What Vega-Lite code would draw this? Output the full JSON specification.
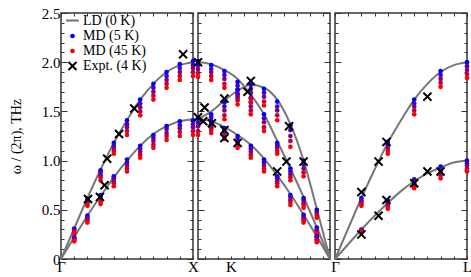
{
"$schema": "https://vega.github.io/schema/vega-lite/v6.json",
"padding": {"left": 8, "top": 5, "right": 0, "bottom": 0},
"bounds": "flush",
"spacing": 5,
"config": {"view": {"stroke": "#333", "strokeWidth": 1.5}, "font": "Liberation Serif"},
"datasets": {
"ld": [
{"p":1,"b":"a","q":0,"w":0},{"p":1,"b":"a","q":0.1,"w":0.31},{"p":1,"b":"a","q":0.2,"w":0.62},{"p":1,"b":"a","q":0.3,"w":0.91},{"p":1,"b":"a","q":0.4,"w":1.18},{"p":1,"b":"a","q":0.5,"w":1.41},{"p":1,"b":"a","q":0.6,"w":1.62},{"p":1,"b":"a","q":0.7,"w":1.78},{"p":1,"b":"a","q":0.8,"w":1.90},{"p":1,"b":"a","q":0.9,"w":1.97},{"p":1,"b":"a","q":1,"w":2.0},
{"p":1,"b":"t","q":0,"w":0},{"p":1,"b":"t","q":0.1,"w":0.22},{"p":1,"b":"t","q":0.2,"w":0.44},{"p":1,"b":"t","q":0.3,"w":0.64},{"p":1,"b":"t","q":0.4,"w":0.83},{"p":1,"b":"t","q":0.5,"w":1.0},{"p":1,"b":"t","q":0.6,"w":1.15},{"p":1,"b":"t","q":0.7,"w":1.27},{"p":1,"b":"t","q":0.8,"w":1.35},{"p":1,"b":"t","q":0.9,"w":1.40},{"p":1,"b":"t","q":1,"w":1.42},
{"p":2,"b":"A","q":0,"w":2.0},{"p":2,"b":"A","q":0.1,"w":1.98},{"p":2,"b":"A","q":0.2,"w":1.92},{"p":2,"b":"A","q":0.3,"w":1.83},{"p":2,"b":"A","q":0.4,"w":1.67},{"p":2,"b":"A","q":0.5,"w":1.47},{"p":2,"b":"A","q":0.6,"w":1.20},{"p":2,"b":"A","q":0.7,"w":0.92},{"p":2,"b":"A","q":0.8,"w":0.63},{"p":2,"b":"A","q":0.9,"w":0.32},{"p":2,"b":"A","q":1,"w":0},
{"p":2,"b":"B","q":0,"w":1.42},{"p":2,"b":"B","q":0.1,"w":1.50},{"p":2,"b":"B","q":0.2,"w":1.61},{"p":2,"b":"B","q":0.3,"w":1.71},{"p":2,"b":"B","q":0.4,"w":1.77},{"p":2,"b":"B","q":0.5,"w":1.74},{"p":2,"b":"B","q":0.6,"w":1.62},{"p":2,"b":"B","q":0.7,"w":1.37},{"p":2,"b":"B","q":0.8,"w":1.0},{"p":2,"b":"B","q":0.9,"w":0.51},{"p":2,"b":"B","q":1,"w":0},
{"p":2,"b":"C","q":0,"w":1.42},{"p":2,"b":"C","q":0.1,"w":1.40},{"p":2,"b":"C","q":0.2,"w":1.34},{"p":2,"b":"C","q":0.3,"w":1.26},{"p":2,"b":"C","q":0.4,"w":1.16},{"p":2,"b":"C","q":0.5,"w":1.02},{"p":2,"b":"C","q":0.6,"w":0.85},{"p":2,"b":"C","q":0.7,"w":0.66},{"p":2,"b":"C","q":0.8,"w":0.45},{"p":2,"b":"C","q":0.9,"w":0.23},{"p":2,"b":"C","q":1,"w":0},
{"p":3,"b":"a","q":0,"w":0},{"p":3,"b":"a","q":0.1,"w":0.31},{"p":3,"b":"a","q":0.2,"w":0.62},{"p":3,"b":"a","q":0.3,"w":0.91},{"p":3,"b":"a","q":0.4,"w":1.18},{"p":3,"b":"a","q":0.5,"w":1.41},{"p":3,"b":"a","q":0.6,"w":1.62},{"p":3,"b":"a","q":0.7,"w":1.78},{"p":3,"b":"a","q":0.8,"w":1.90},{"p":3,"b":"a","q":0.9,"w":1.97},{"p":3,"b":"a","q":1,"w":2.0},
{"p":3,"b":"t","q":0,"w":0},{"p":3,"b":"t","q":0.1,"w":0.15},{"p":3,"b":"t","q":0.2,"w":0.30},{"p":3,"b":"t","q":0.3,"w":0.44},{"p":3,"b":"t","q":0.4,"w":0.57},{"p":3,"b":"t","q":0.5,"w":0.69},{"p":3,"b":"t","q":0.6,"w":0.79},{"p":3,"b":"t","q":0.7,"w":0.87},{"p":3,"b":"t","q":0.8,"w":0.93},{"p":3,"b":"t","q":0.9,"w":0.98},{"p":3,"b":"t","q":1,"w":1.0}
],
"pt": [
{"p":1,"q":0.1,"w":0.31,"s":"M5"},{"p":1,"q":0.1,"w":0.30,"s":"M15"},{"p":1,"q":0.1,"w":0.29,"s":"M25"},{"p":1,"q":0.1,"w":0.27,"s":"M35"},{"p":1,"q":0.1,"w":0.26,"s":"M45"},
{"p":1,"q":0.2,"w":0.61,"s":"M5"},{"p":1,"q":0.2,"w":0.59,"s":"M15"},{"p":1,"q":0.2,"w":0.58,"s":"M25"},{"p":1,"q":0.2,"w":0.56,"s":"M35"},{"p":1,"q":0.2,"w":0.54,"s":"M45"},
{"p":1,"q":0.3,"w":0.90,"s":"M5"},{"p":1,"q":0.3,"w":0.88,"s":"M15"},{"p":1,"q":0.3,"w":0.85,"s":"M25"},{"p":1,"q":0.3,"w":0.83,"s":"M35"},{"p":1,"q":0.3,"w":0.80,"s":"M45"},
{"p":1,"q":0.4,"w":1.18,"s":"M5"},{"p":1,"q":0.4,"w":1.15,"s":"M15"},{"p":1,"q":0.4,"w":1.13,"s":"M25"},{"p":1,"q":0.4,"w":1.10,"s":"M35"},{"p":1,"q":0.4,"w":1.07,"s":"M45"},
{"p":1,"q":0.5,"w":1.41,"s":"M5"},{"p":1,"q":0.5,"w":1.37,"s":"M15"},{"p":1,"q":0.5,"w":1.34,"s":"M25"},{"p":1,"q":0.5,"w":1.30,"s":"M35"},{"p":1,"q":0.5,"w":1.26,"s":"M45"},
{"p":1,"q":0.6,"w":1.62,"s":"M5"},{"p":1,"q":0.6,"w":1.58,"s":"M15"},{"p":1,"q":0.6,"w":1.54,"s":"M25"},{"p":1,"q":0.6,"w":1.50,"s":"M35"},{"p":1,"q":0.6,"w":1.46,"s":"M45"},
{"p":1,"q":0.7,"w":1.78,"s":"M5"},{"p":1,"q":0.7,"w":1.74,"s":"M15"},{"p":1,"q":0.7,"w":1.70,"s":"M25"},{"p":1,"q":0.7,"w":1.66,"s":"M35"},{"p":1,"q":0.7,"w":1.62,"s":"M45"},
{"p":1,"q":0.8,"w":1.90,"s":"M5"},{"p":1,"q":0.8,"w":1.86,"s":"M15"},{"p":1,"q":0.8,"w":1.82,"s":"M25"},{"p":1,"q":0.8,"w":1.78,"s":"M35"},{"p":1,"q":0.8,"w":1.74,"s":"M45"},
{"p":1,"q":0.9,"w":1.98,"s":"M5"},{"p":1,"q":0.9,"w":1.94,"s":"M15"},{"p":1,"q":0.9,"w":1.90,"s":"M25"},{"p":1,"q":0.9,"w":1.86,"s":"M35"},{"p":1,"q":0.9,"w":1.82,"s":"M45"},
{"p":1,"q":1,"w":2.01,"s":"M5"},{"p":1,"q":1,"w":1.97,"s":"M15"},{"p":1,"q":1,"w":1.94,"s":"M25"},{"p":1,"q":1,"w":1.90,"s":"M35"},{"p":1,"q":1,"w":1.86,"s":"M45"},
{"p":1,"q":0.1,"w":0.22,"s":"M5"},{"p":1,"q":0.1,"w":0.21,"s":"M15"},{"p":1,"q":0.1,"w":0.20,"s":"M25"},{"p":1,"q":0.1,"w":0.19,"s":"M35"},{"p":1,"q":0.1,"w":0.18,"s":"M45"},
{"p":1,"q":0.2,"w":0.44,"s":"M5"},{"p":1,"q":0.2,"w":0.42,"s":"M15"},{"p":1,"q":0.2,"w":0.41,"s":"M25"},{"p":1,"q":0.2,"w":0.39,"s":"M35"},{"p":1,"q":0.2,"w":0.37,"s":"M45"},
{"p":1,"q":0.3,"w":0.65,"s":"M5"},{"p":1,"q":0.3,"w":0.63,"s":"M15"},{"p":1,"q":0.3,"w":0.61,"s":"M25"},{"p":1,"q":0.3,"w":0.58,"s":"M35"},{"p":1,"q":0.3,"w":0.56,"s":"M45"},
{"p":1,"q":0.4,"w":0.84,"s":"M5"},{"p":1,"q":0.4,"w":0.82,"s":"M15"},{"p":1,"q":0.4,"w":0.79,"s":"M25"},{"p":1,"q":0.4,"w":0.77,"s":"M35"},{"p":1,"q":0.4,"w":0.74,"s":"M45"},
{"p":1,"q":0.5,"w":1.01,"s":"M5"},{"p":1,"q":0.5,"w":0.98,"s":"M15"},{"p":1,"q":0.5,"w":0.95,"s":"M25"},{"p":1,"q":0.5,"w":0.92,"s":"M35"},{"p":1,"q":0.5,"w":0.89,"s":"M45"},
{"p":1,"q":0.6,"w":1.15,"s":"M5"},{"p":1,"q":0.6,"w":1.12,"s":"M15"},{"p":1,"q":0.6,"w":1.09,"s":"M25"},{"p":1,"q":0.6,"w":1.06,"s":"M35"},{"p":1,"q":0.6,"w":1.03,"s":"M45"},
{"p":1,"q":0.7,"w":1.26,"s":"M5"},{"p":1,"q":0.7,"w":1.23,"s":"M15"},{"p":1,"q":0.7,"w":1.20,"s":"M25"},{"p":1,"q":0.7,"w":1.16,"s":"M35"},{"p":1,"q":0.7,"w":1.13,"s":"M45"},
{"p":1,"q":0.8,"w":1.35,"s":"M5"},{"p":1,"q":0.8,"w":1.32,"s":"M15"},{"p":1,"q":0.8,"w":1.28,"s":"M25"},{"p":1,"q":0.8,"w":1.25,"s":"M35"},{"p":1,"q":0.8,"w":1.21,"s":"M45"},
{"p":1,"q":0.9,"w":1.40,"s":"M5"},{"p":1,"q":0.9,"w":1.36,"s":"M15"},{"p":1,"q":0.9,"w":1.33,"s":"M25"},{"p":1,"q":0.9,"w":1.29,"s":"M35"},{"p":1,"q":0.9,"w":1.25,"s":"M45"},
{"p":1,"q":1,"w":1.41,"s":"M5"},{"p":1,"q":1,"w":1.37,"s":"M15"},{"p":1,"q":1,"w":1.34,"s":"M25"},{"p":1,"q":1,"w":1.30,"s":"M35"},{"p":1,"q":1,"w":1.26,"s":"M45"},
{"p":2,"q":0,"w":2.01,"s":"M5"},{"p":2,"q":0,"w":1.97,"s":"M15"},{"p":2,"q":0,"w":1.93,"s":"M25"},{"p":2,"q":0,"w":1.89,"s":"M35"},{"p":2,"q":0,"w":1.85,"s":"M45"},
{"p":2,"q":0.1,"w":1.97,"s":"M5"},{"p":2,"q":0.1,"w":1.93,"s":"M15"},{"p":2,"q":0.1,"w":1.90,"s":"M25"},{"p":2,"q":0.1,"w":1.86,"s":"M35"},{"p":2,"q":0.1,"w":1.82,"s":"M45"},
{"p":2,"q":0.2,"w":1.91,"s":"M5"},{"p":2,"q":0.2,"w":1.87,"s":"M15"},{"p":2,"q":0.2,"w":1.83,"s":"M25"},{"p":2,"q":0.2,"w":1.78,"s":"M35"},{"p":2,"q":0.2,"w":1.74,"s":"M45"},
{"p":2,"q":0.3,"w":1.80,"s":"M5"},{"p":2,"q":0.3,"w":1.76,"s":"M15"},{"p":2,"q":0.3,"w":1.72,"s":"M25"},{"p":2,"q":0.3,"w":1.67,"s":"M35"},{"p":2,"q":0.3,"w":1.63,"s":"M45"},
{"p":2,"q":0.4,"w":1.63,"s":"M5"},{"p":2,"q":0.4,"w":1.59,"s":"M15"},{"p":2,"q":0.4,"w":1.55,"s":"M25"},{"p":2,"q":0.4,"w":1.51,"s":"M35"},{"p":2,"q":0.4,"w":1.47,"s":"M45"},
{"p":2,"q":0.5,"w":1.47,"s":"M5"},{"p":2,"q":0.5,"w":1.43,"s":"M15"},{"p":2,"q":0.5,"w":1.39,"s":"M25"},{"p":2,"q":0.5,"w":1.34,"s":"M35"},{"p":2,"q":0.5,"w":1.30,"s":"M45"},
{"p":2,"q":0.6,"w":1.18,"s":"M5"},{"p":2,"q":0.6,"w":1.15,"s":"M15"},{"p":2,"q":0.6,"w":1.13,"s":"M25"},{"p":2,"q":0.6,"w":1.10,"s":"M35"},{"p":2,"q":0.6,"w":1.07,"s":"M45"},
{"p":2,"q":0.7,"w":0.92,"s":"M5"},{"p":2,"q":0.7,"w":0.89,"s":"M15"},{"p":2,"q":0.7,"w":0.86,"s":"M25"},{"p":2,"q":0.7,"w":0.83,"s":"M35"},{"p":2,"q":0.7,"w":0.80,"s":"M45"},
{"p":2,"q":0.8,"w":0.62,"s":"M5"},{"p":2,"q":0.8,"w":0.60,"s":"M15"},{"p":2,"q":0.8,"w":0.57,"s":"M25"},{"p":2,"q":0.8,"w":0.55,"s":"M35"},{"p":2,"q":0.8,"w":0.52,"s":"M45"},
{"p":2,"q":0.9,"w":0.32,"s":"M5"},{"p":2,"q":0.9,"w":0.30,"s":"M15"},{"p":2,"q":0.9,"w":0.29,"s":"M25"},{"p":2,"q":0.9,"w":0.27,"s":"M35"},{"p":2,"q":0.9,"w":0.25,"s":"M45"},
{"p":2,"q":0.1,"w":1.47,"s":"M5"},{"p":2,"q":0.1,"w":1.44,"s":"M15"},{"p":2,"q":0.1,"w":1.40,"s":"M25"},{"p":2,"q":0.1,"w":1.37,"s":"M35"},{"p":2,"q":0.1,"w":1.33,"s":"M45"},
{"p":2,"q":0.2,"w":1.59,"s":"M5"},{"p":2,"q":0.2,"w":1.55,"s":"M15"},{"p":2,"q":0.2,"w":1.51,"s":"M25"},{"p":2,"q":0.2,"w":1.46,"s":"M35"},{"p":2,"q":0.2,"w":1.42,"s":"M45"},
{"p":2,"q":0.3,"w":1.72,"s":"M5"},{"p":2,"q":0.3,"w":1.68,"s":"M15"},{"p":2,"q":0.3,"w":1.65,"s":"M25"},{"p":2,"q":0.3,"w":1.61,"s":"M35"},{"p":2,"q":0.3,"w":1.57,"s":"M45"},
{"p":2,"q":0.4,"w":1.77,"s":"M5"},{"p":2,"q":0.4,"w":1.73,"s":"M15"},{"p":2,"q":0.4,"w":1.69,"s":"M25"},{"p":2,"q":0.4,"w":1.64,"s":"M35"},{"p":2,"q":0.4,"w":1.60,"s":"M45"},
{"p":2,"q":0.5,"w":1.73,"s":"M5"},{"p":2,"q":0.5,"w":1.69,"s":"M15"},{"p":2,"q":0.5,"w":1.65,"s":"M25"},{"p":2,"q":0.5,"w":1.60,"s":"M35"},{"p":2,"q":0.5,"w":1.56,"s":"M45"},
{"p":2,"q":0.6,"w":1.60,"s":"M5"},{"p":2,"q":0.6,"w":1.55,"s":"M15"},{"p":2,"q":0.6,"w":1.51,"s":"M25"},{"p":2,"q":0.6,"w":1.46,"s":"M35"},{"p":2,"q":0.6,"w":1.41,"s":"M45"},
{"p":2,"q":0.7,"w":1.36,"s":"M5"},{"p":2,"q":0.7,"w":1.31,"s":"M15"},{"p":2,"q":0.7,"w":1.25,"s":"M25"},{"p":2,"q":0.7,"w":1.20,"s":"M35"},{"p":2,"q":0.7,"w":1.14,"s":"M45"},
{"p":2,"q":0.8,"w":1.00,"s":"M5"},{"p":2,"q":0.8,"w":0.96,"s":"M15"},{"p":2,"q":0.8,"w":0.92,"s":"M25"},{"p":2,"q":0.8,"w":0.88,"s":"M35"},{"p":2,"q":0.8,"w":0.84,"s":"M45"},
{"p":2,"q":0.9,"w":0.50,"s":"M5"},{"p":2,"q":0.9,"w":0.48,"s":"M15"},{"p":2,"q":0.9,"w":0.46,"s":"M25"},{"p":2,"q":0.9,"w":0.44,"s":"M35"},{"p":2,"q":0.9,"w":0.42,"s":"M45"},
{"p":2,"q":0,"w":1.43,"s":"M5"},{"p":2,"q":0,"w":1.39,"s":"M15"},{"p":2,"q":0,"w":1.35,"s":"M25"},{"p":2,"q":0,"w":1.30,"s":"M35"},{"p":2,"q":0,"w":1.26,"s":"M45"},
{"p":2,"q":0.1,"w":1.40,"s":"M5"},{"p":2,"q":0.1,"w":1.37,"s":"M15"},{"p":2,"q":0.1,"w":1.34,"s":"M25"},{"p":2,"q":0.1,"w":1.31,"s":"M35"},{"p":2,"q":0.1,"w":1.28,"s":"M45"},
{"p":2,"q":0.2,"w":1.33,"s":"M5"},{"p":2,"q":0.2,"w":1.30,"s":"M15"},{"p":2,"q":0.2,"w":1.28,"s":"M25"},{"p":2,"q":0.2,"w":1.25,"s":"M35"},{"p":2,"q":0.2,"w":1.22,"s":"M45"},
{"p":2,"q":0.3,"w":1.25,"s":"M5"},{"p":2,"q":0.3,"w":1.22,"s":"M15"},{"p":2,"q":0.3,"w":1.19,"s":"M25"},{"p":2,"q":0.3,"w":1.16,"s":"M35"},{"p":2,"q":0.3,"w":1.13,"s":"M45"},
{"p":2,"q":0.4,"w":1.15,"s":"M5"},{"p":2,"q":0.4,"w":1.12,"s":"M15"},{"p":2,"q":0.4,"w":1.09,"s":"M25"},{"p":2,"q":0.4,"w":1.06,"s":"M35"},{"p":2,"q":0.4,"w":1.03,"s":"M45"},
{"p":2,"q":0.5,"w":1.01,"s":"M5"},{"p":2,"q":0.5,"w":0.98,"s":"M15"},{"p":2,"q":0.5,"w":0.95,"s":"M25"},{"p":2,"q":0.5,"w":0.92,"s":"M35"},{"p":2,"q":0.5,"w":0.89,"s":"M45"},
{"p":2,"q":0.6,"w":0.84,"s":"M5"},{"p":2,"q":0.6,"w":0.82,"s":"M15"},{"p":2,"q":0.6,"w":0.79,"s":"M25"},{"p":2,"q":0.6,"w":0.77,"s":"M35"},{"p":2,"q":0.6,"w":0.74,"s":"M45"},
{"p":2,"q":0.7,"w":0.65,"s":"M5"},{"p":2,"q":0.7,"w":0.63,"s":"M15"},{"p":2,"q":0.7,"w":0.60,"s":"M25"},{"p":2,"q":0.7,"w":0.58,"s":"M35"},{"p":2,"q":0.7,"w":0.55,"s":"M45"},
{"p":2,"q":0.8,"w":0.45,"s":"M5"},{"p":2,"q":0.8,"w":0.43,"s":"M15"},{"p":2,"q":0.8,"w":0.41,"s":"M25"},{"p":2,"q":0.8,"w":0.39,"s":"M35"},{"p":2,"q":0.8,"w":0.37,"s":"M45"},
{"p":2,"q":0.9,"w":0.23,"s":"M5"},{"p":2,"q":0.9,"w":0.22,"s":"M15"},{"p":2,"q":0.9,"w":0.20,"s":"M25"},{"p":2,"q":0.9,"w":0.19,"s":"M35"},{"p":2,"q":0.9,"w":0.17,"s":"M45"},
{"p":3,"q":0.2,"w":0.62,"s":"M5"},{"p":3,"q":0.2,"w":0.60,"s":"M15"},{"p":3,"q":0.2,"w":0.58,"s":"M25"},{"p":3,"q":0.2,"w":0.56,"s":"M35"},{"p":3,"q":0.2,"w":0.54,"s":"M45"},
{"p":3,"q":0.4,"w":1.19,"s":"M5"},{"p":3,"q":0.4,"w":1.16,"s":"M15"},{"p":3,"q":0.4,"w":1.13,"s":"M25"},{"p":3,"q":0.4,"w":1.10,"s":"M35"},{"p":3,"q":0.4,"w":1.07,"s":"M45"},
{"p":3,"q":0.6,"w":1.62,"s":"M5"},{"p":3,"q":0.6,"w":1.58,"s":"M15"},{"p":3,"q":0.6,"w":1.55,"s":"M25"},{"p":3,"q":0.6,"w":1.51,"s":"M35"},{"p":3,"q":0.6,"w":1.47,"s":"M45"},
{"p":3,"q":0.8,"w":1.91,"s":"M5"},{"p":3,"q":0.8,"w":1.87,"s":"M15"},{"p":3,"q":0.8,"w":1.83,"s":"M25"},{"p":3,"q":0.8,"w":1.79,"s":"M35"},{"p":3,"q":0.8,"w":1.75,"s":"M45"},
{"p":3,"q":1,"w":2.00,"s":"M5"},{"p":3,"q":1,"w":1.96,"s":"M15"},{"p":3,"q":1,"w":1.92,"s":"M25"},{"p":3,"q":1,"w":1.88,"s":"M35"},{"p":3,"q":1,"w":1.84,"s":"M45"},
{"p":3,"q":0.2,"w":0.30,"s":"M5"},{"p":3,"q":0.2,"w":0.29,"s":"M15"},{"p":3,"q":0.2,"w":0.29,"s":"M25"},{"p":3,"q":0.2,"w":0.28,"s":"M35"},{"p":3,"q":0.2,"w":0.27,"s":"M45"},
{"p":3,"q":0.4,"w":0.59,"s":"M5"},{"p":3,"q":0.4,"w":0.57,"s":"M15"},{"p":3,"q":0.4,"w":0.55,"s":"M25"},{"p":3,"q":0.4,"w":0.53,"s":"M35"},{"p":3,"q":0.4,"w":0.51,"s":"M45"},
{"p":3,"q":0.6,"w":0.81,"s":"M5"},{"p":3,"q":0.6,"w":0.79,"s":"M15"},{"p":3,"q":0.6,"w":0.77,"s":"M25"},{"p":3,"q":0.6,"w":0.74,"s":"M35"},{"p":3,"q":0.6,"w":0.72,"s":"M45"},
{"p":3,"q":0.8,"w":0.94,"s":"M5"},{"p":3,"q":0.8,"w":0.91,"s":"M15"},{"p":3,"q":0.8,"w":0.88,"s":"M25"},{"p":3,"q":0.8,"w":0.85,"s":"M35"},{"p":3,"q":0.8,"w":0.82,"s":"M45"},
{"p":3,"q":1,"w":1.00,"s":"M5"},{"p":3,"q":1,"w":0.97,"s":"M15"},{"p":3,"q":1,"w":0.95,"s":"M25"},{"p":3,"q":1,"w":0.92,"s":"M35"},{"p":3,"q":1,"w":0.89,"s":"M45"},
{"p":1,"q":0.205,"w":0.61,"s":"EX"},{"p":1,"q":0.295,"w":0.63,"s":"EX"},{"p":1,"q":0.33,"w":0.75,"s":"EX"},{"p":1,"q":0.35,"w":1.02,"s":"EX"},{"p":1,"q":0.44,"w":1.27,"s":"EX"},{"p":1,"q":0.555,"w":1.53,"s":"EX"},{"p":1,"q":0.925,"w":2.08,"s":"EX"},
{"p":2,"q":0,"w":2.0,"s":"EX"},{"p":2,"q":0.05,"w":1.54,"s":"EX"},{"p":2,"q":0,"w":1.44,"s":"EX"},{"p":2,"q":0.04,"w":1.40,"s":"EX"},{"p":2,"q":0.105,"w":1.38,"s":"EX"},{"p":2,"q":0.2,"w":1.63,"s":"EX"},{"p":2,"q":0.2,"w":1.31,"s":"EX"},{"p":2,"q":0.2,"w":1.23,"s":"EX"},{"p":2,"q":0.3,"w":1.18,"s":"EX"},{"p":2,"q":0.4,"w":1.81,"s":"EX"},{"p":2,"q":0.375,"w":1.70,"s":"EX"},{"p":2,"q":0.69,"w":1.35,"s":"EX"},{"p":2,"q":0.6,"w":0.89,"s":"EX"},{"p":2,"q":0.67,"w":0.99,"s":"EX"},{"p":2,"q":0.8,"w":0.99,"s":"EX"},
{"p":3,"q":0.2,"w":0.68,"s":"EX"},{"p":3,"q":0.33,"w":0.99,"s":"EX"},{"p":3,"q":0.39,"w":1.19,"s":"EX"},{"p":3,"q":0.7,"w":1.65,"s":"EX"},{"p":3,"q":0.2,"w":0.25,"s":"EX"},{"p":3,"q":0.33,"w":0.44,"s":"EX"},{"p":3,"q":0.39,"w":0.60,"s":"EX"},{"p":3,"q":0.6,"w":0.77,"s":"EX"},{"p":3,"q":0.7,"w":0.89,"s":"EX"},{"p":3,"q":0.8,"w":0.89,"s":"EX"}
]
},
"hconcat": [
{
"width": 132, "height": 246,
"layer": [
{"data": {"name": "ld"}, "transform": [{"filter": "datum.p == 1"}],
 "mark": {"type": "line", "color": "#777", "strokeWidth": 2, "interpolate": "monotone"},
 "encoding": {
  "x": {"field": "q", "type": "quantitative", "scale": {"domain": [0, 1], "nice": false},
   "axis": {"orient": "bottom", "values": [0,0.1,0.2,0.3,0.4,0.5,0.6,0.7,0.8,0.9,1], "labelExpr": "datum.value == 0 ? 'Γ' : datum.value == 1 ? 'X' : ''", "tickSize": -3, "tickColor": "#333", "domain": false, "grid": false, "title": null, "labelFlush": false, "labelOverlap": false, "labelFont": "Liberation Serif", "labelFontSize": 15, "labelColor": "#000", "labelPadding": 3}},
  "y": {"field": "w", "type": "quantitative", "scale": {"domain": [0, 2.5], "nice": false},
   "axis": {"orient": "left", "values": [0,0.1,0.2,0.3,0.4,0.5,0.6,0.7,0.8,0.9,1,1.1,1.2,1.3,1.4,1.5,1.6,1.7,1.8,1.9,2,2.1,2.2,2.3,2.4,2.5], "labelExpr": "abs(datum.value*2 - round(datum.value*2)) < 0.001 ? (datum.value == 0 ? '0' : format(datum.value, '.1f')) : ''", "tickSize": {"condition": {"test": "abs(datum.value*2 - round(datum.value*2)) < 0.001", "value": -6}, "value": -3}, "tickColor": "#333", "domain": false, "grid": false, "labelOverlap": false, "labelFlush": false, "labelFont": "Liberation Serif", "labelFontSize": 15, "labelColor": "#000", "labelPadding": 7, "title": "ω / (2π), THz", "titleFont": "Liberation Serif", "titleFontSize": 14, "titleFontWeight": "normal", "titleColor": "#000", "titlePadding": 18}},
  "detail": {"field": "b"}
 }},
{"data": {"name": "pt"}, "transform": [{"filter": "datum.p == 1"}],
 "mark": {"type": "point", "filled": true, "opacity": 1},
 "encoding": {
  "x": {"field": "q", "type": "quantitative", "scale": {"domain": [0, 1], "nice": false},
   "axis": {"orient": "top", "values": [0,0.1,0.2,0.3,0.4,0.5,0.6,0.7,0.8,0.9,1], "labels": false, "tickSize": -3, "tickColor": "#333", "domain": false, "grid": false, "title": null}},
  "y": {"field": "w", "type": "quantitative", "scale": {"domain": [0, 2.5], "nice": false},
   "axis": {"orient": "right", "values": [0,0.1,0.2,0.3,0.4,0.5,0.6,0.7,0.8,0.9,1,1.1,1.2,1.3,1.4,1.5,1.6,1.7,1.8,1.9,2,2.1,2.2,2.3,2.4,2.5], "labels": false, "tickSize": {"condition": {"test": "abs(datum.value*2 - round(datum.value*2)) < 0.001", "value": -6}, "value": -3}, "tickColor": "#333", "domain": false, "grid": false, "title": null}},
  "color": {"field": "s", "type": "nominal", "scale": {"domain": ["LD","M5","M15","M25","M35","M45","EX"], "range": ["#707070","#0000ff","#4000bf","#800080","#bf0040","#ff0000","#000000"]},
   "legend": {"orient": "none", "legendX": 4, "legendY": 0, "values": ["LD","M5","M45","EX"], "labelExpr": "datum.label == 'LD' ? 'LD (0 K)' : datum.label == 'M5' ? 'MD (5 K)' : datum.label == 'M45' ? 'MD (45 K)' : 'Expt. (4 K)'", "title": null, "labelFont": "Liberation Serif", "labelFontSize": 14, "labelColor": "#000", "rowPadding": 1, "labelOffset": 3}},
  "shape": {"field": "s", "type": "nominal", "scale": {"domain": ["LD","M5","M15","M25","M35","M45","EX"], "range": ["M-1,-0.16L1,-0.16L1,0.16L-1,0.16Z","circle","circle","circle","circle","circle","M0,-0.3L0.7,-1L1,-0.7L0.3,0L1,0.7L0.7,1L0,0.3L-0.7,1L-1,0.7L-0.3,0L-1,-0.7L-0.7,-1Z"]},
   "legend": {"orient": "none", "legendX": 4, "legendY": 0, "values": ["LD","M5","M45","EX"], "labelExpr": "datum.label == 'LD' ? 'LD (0 K)' : datum.label == 'M5' ? 'MD (5 K)' : datum.label == 'M45' ? 'MD (45 K)' : 'Expt. (4 K)'", "title": null, "labelFont": "Liberation Serif", "labelFontSize": 14, "labelColor": "#000", "rowPadding": 1, "labelOffset": 3}},
  "size": {"field": "s", "type": "nominal", "scale": {"type": "ordinal", "domain": ["LD","M5","M15","M25","M35","M45","EX"], "range": [160,22,22,22,22,22,90]},
   "legend": {"orient": "none", "legendX": 4, "legendY": 0, "values": ["LD","M5","M45","EX"], "labelExpr": "datum.label == 'LD' ? 'LD (0 K)' : datum.label == 'M5' ? 'MD (5 K)' : datum.label == 'M45' ? 'MD (45 K)' : 'Expt. (4 K)'", "title": null, "labelFont": "Liberation Serif", "labelFontSize": 14, "labelColor": "#000", "rowPadding": 1, "labelOffset": 3}}
 }}
],
"resolve": {"axis": {"x": "independent", "y": "independent"}}
},
{
"width": 132, "height": 246,
"layer": [
{"data": {"name": "ld"}, "transform": [{"filter": "datum.p == 2"}],
 "mark": {"type": "line", "color": "#777", "strokeWidth": 2, "interpolate": "monotone"},
 "encoding": {
  "x": {"field": "q", "type": "quantitative", "scale": {"domain": [0, 1], "nice": false},
   "axis": {"orient": "bottom", "values": [0.05,0.15,0.25,0.35,0.45,0.55,0.65,0.75,0.85,0.95], "labelExpr": "datum.value == 0.25 ? 'K' : ''", "tickSize": -3, "tickColor": "#333", "domain": false, "grid": false, "title": null, "labelFlush": false, "labelOverlap": false, "labelFont": "Liberation Serif", "labelFontSize": 15, "labelColor": "#000", "labelPadding": 3}},
  "y": {"field": "w", "type": "quantitative", "scale": {"domain": [0, 2.5], "nice": false},
   "axis": {"orient": "left", "values": [0,0.1,0.2,0.3,0.4,0.5,0.6,0.7,0.8,0.9,1,1.1,1.2,1.3,1.4,1.5,1.6,1.7,1.8,1.9,2,2.1,2.2,2.3,2.4,2.5], "labels": false, "tickSize": {"condition": {"test": "abs(datum.value*2 - round(datum.value*2)) < 0.001", "value": -6}, "value": -3}, "tickColor": "#333", "domain": false, "grid": false, "title": null}},
  "detail": {"field": "b"}
 }},
{"data": {"name": "pt"}, "transform": [{"filter": "datum.p == 2"}],
 "mark": {"type": "point", "filled": true, "opacity": 1},
 "encoding": {
  "x": {"field": "q", "type": "quantitative", "scale": {"domain": [0, 1], "nice": false},
   "axis": {"orient": "top", "values": [0.05,0.15,0.25,0.35,0.45,0.55,0.65,0.75,0.85,0.95], "labels": false, "tickSize": -3, "tickColor": "#333", "domain": false, "grid": false, "title": null}},
  "y": {"field": "w", "type": "quantitative", "scale": {"domain": [0, 2.5], "nice": false},
   "axis": {"orient": "right", "values": [0,0.1,0.2,0.3,0.4,0.5,0.6,0.7,0.8,0.9,1,1.1,1.2,1.3,1.4,1.5,1.6,1.7,1.8,1.9,2,2.1,2.2,2.3,2.4,2.5], "labels": false, "tickSize": {"condition": {"test": "abs(datum.value*2 - round(datum.value*2)) < 0.001", "value": -6}, "value": -3}, "tickColor": "#333", "domain": false, "grid": false, "title": null}},
  "color": {"field": "s", "type": "nominal", "scale": {"domain": ["LD","M5","M15","M25","M35","M45","EX"], "range": ["#707070","#0000ff","#4000bf","#800080","#bf0040","#ff0000","#000000"]}, "legend": null},
  "shape": {"field": "s", "type": "nominal", "scale": {"domain": ["LD","M5","M15","M25","M35","M45","EX"], "range": ["M-1,-0.16L1,-0.16L1,0.16L-1,0.16Z","circle","circle","circle","circle","circle","M0,-0.3L0.7,-1L1,-0.7L0.3,0L1,0.7L0.7,1L0,0.3L-0.7,1L-1,0.7L-0.3,0L-1,-0.7L-0.7,-1Z"]}, "legend": null},
  "size": {"field": "s", "type": "nominal", "scale": {"type": "ordinal", "domain": ["LD","M5","M15","M25","M35","M45","EX"], "range": [160,22,22,22,22,22,90]}, "legend": null}
 }}
],
"resolve": {"axis": {"x": "independent", "y": "independent"}}
},
{
"width": 132, "height": 246,
"layer": [
{"data": {"name": "ld"}, "transform": [{"filter": "datum.p == 3"}],
 "mark": {"type": "line", "color": "#777", "strokeWidth": 2, "interpolate": "monotone"},
 "encoding": {
  "x": {"field": "q", "type": "quantitative", "scale": {"domain": [0, 1], "nice": false},
   "axis": {"orient": "bottom", "values": [0,0.1,0.2,0.3,0.4,0.5,0.6,0.7,0.8,0.9,1], "labelExpr": "datum.value == 0 ? 'Γ' : datum.value == 1 ? 'L' : ''", "tickSize": -3, "tickColor": "#333", "domain": false, "grid": false, "title": null, "labelFlush": false, "labelOverlap": false, "labelFont": "Liberation Serif", "labelFontSize": 15, "labelColor": "#000", "labelPadding": 3}},
  "y": {"field": "w", "type": "quantitative", "scale": {"domain": [0, 2.5], "nice": false},
   "axis": {"orient": "left", "values": [0,0.1,0.2,0.3,0.4,0.5,0.6,0.7,0.8,0.9,1,1.1,1.2,1.3,1.4,1.5,1.6,1.7,1.8,1.9,2,2.1,2.2,2.3,2.4,2.5], "labels": false, "tickSize": {"condition": {"test": "abs(datum.value*2 - round(datum.value*2)) < 0.001", "value": -6}, "value": -3}, "tickColor": "#333", "domain": false, "grid": false, "title": null}},
  "detail": {"field": "b"}
 }},
{"data": {"name": "pt"}, "transform": [{"filter": "datum.p == 3"}],
 "mark": {"type": "point", "filled": true, "opacity": 1},
 "encoding": {
  "x": {"field": "q", "type": "quantitative", "scale": {"domain": [0, 1], "nice": false},
   "axis": {"orient": "top", "values": [0,0.1,0.2,0.3,0.4,0.5,0.6,0.7,0.8,0.9,1], "labels": false, "tickSize": -3, "tickColor": "#333", "domain": false, "grid": false, "title": null}},
  "y": {"field": "w", "type": "quantitative", "scale": {"domain": [0, 2.5], "nice": false},
   "axis": {"orient": "right", "values": [0,0.1,0.2,0.3,0.4,0.5,0.6,0.7,0.8,0.9,1,1.1,1.2,1.3,1.4,1.5,1.6,1.7,1.8,1.9,2,2.1,2.2,2.3,2.4,2.5], "labels": false, "tickSize": {"condition": {"test": "abs(datum.value*2 - round(datum.value*2)) < 0.001", "value": -6}, "value": -3}, "tickColor": "#333", "domain": false, "grid": false, "title": null}},
  "color": {"field": "s", "type": "nominal", "scale": {"domain": ["LD","M5","M15","M25","M35","M45","EX"], "range": ["#707070","#0000ff","#4000bf","#800080","#bf0040","#ff0000","#000000"]}, "legend": null},
  "shape": {"field": "s", "type": "nominal", "scale": {"domain": ["LD","M5","M15","M25","M35","M45","EX"], "range": ["M-1,-0.16L1,-0.16L1,0.16L-1,0.16Z","circle","circle","circle","circle","circle","M0,-0.3L0.7,-1L1,-0.7L0.3,0L1,0.7L0.7,1L0,0.3L-0.7,1L-1,0.7L-0.3,0L-1,-0.7L-0.7,-1Z"]}, "legend": null},
  "size": {"field": "s", "type": "nominal", "scale": {"type": "ordinal", "domain": ["LD","M5","M15","M25","M35","M45","EX"], "range": [160,22,22,22,22,22,90]}, "legend": null}
 }}
],
"resolve": {"axis": {"x": "independent", "y": "independent"}}
}
]
}
